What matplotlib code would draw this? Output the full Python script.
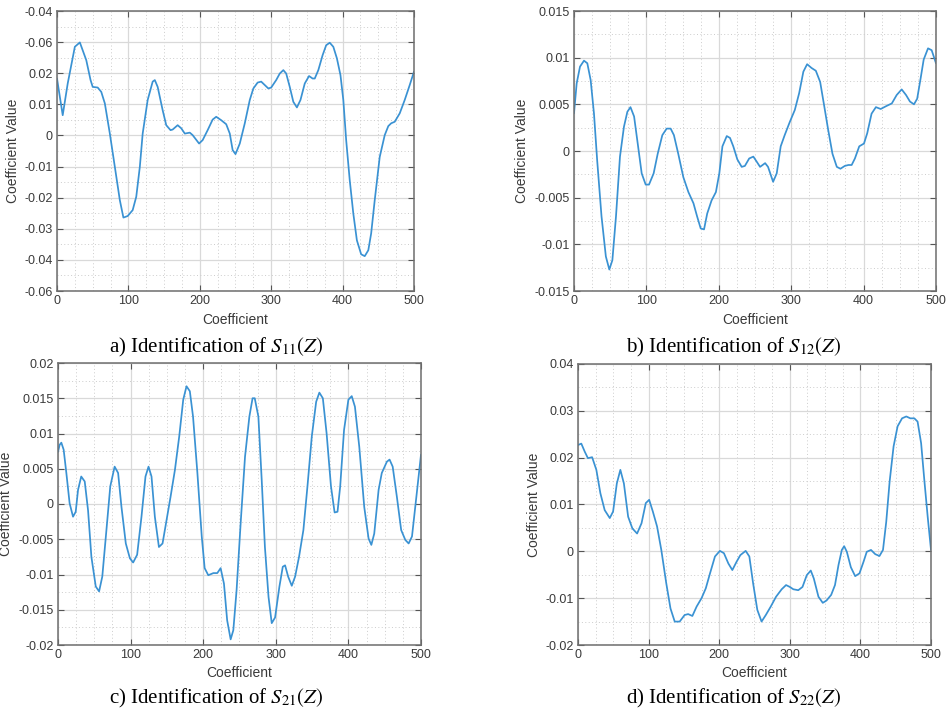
import matplotlib
matplotlib.use("Agg")
import matplotlib.pyplot as plt
from matplotlib.ticker import MultipleLocator, FixedLocator, FixedFormatter

plt.rcParams['font.family'] = ['Liberation Sans', 'DejaVu Sans']
plt.rcParams['mathtext.fontset'] = 'stix'

# ---------------- data ----------------
a_x = [0, 8, 15, 25, 32, 41, 47, 50, 57, 62, 67, 74, 81, 88, 93, 99, 106, 111, 116, 120, 127, 134, 137, 141,
       148, 153, 159, 162, 169, 174, 179, 186, 190, 199, 204, 211, 218, 223, 230, 237, 242, 246, 250, 256, 263,
       270, 275, 281, 286, 291, 296, 300, 307, 312, 317, 321, 326, 331, 336, 341, 347, 353, 358, 361, 366, 372,
       377, 382, 387, 392, 397, 401, 405, 410, 415, 420, 426, 431, 436, 440, 445, 452, 459, 464, 468, 473, 480,
       487, 494, 500]
a_y = [0.0183, 0.0065, 0.0167, 0.0285, 0.0299, 0.0242, 0.0178, 0.0156, 0.0154, 0.014, 0.0103, 0.0006, -0.0101,
       -0.0208, -0.0264, -0.0259, -0.024, -0.0197, -0.0101, 0.0006, 0.0114, 0.0173, 0.0178, 0.0156, 0.0081,
       0.0033, 0.0017, 0.0019, 0.0033, 0.0023, 0.0006, 0.0009, 0.0001, -0.0026, -0.0015, 0.0017, 0.0051, 0.006,
       0.0049, 0.0036, 0.0006, -0.0047, -0.006, -0.0026, 0.0039, 0.0114, 0.0151, 0.017, 0.0173, 0.0162, 0.0151,
       0.0154, 0.0178, 0.0199, 0.021, 0.0199, 0.0156, 0.0108, 0.009, 0.0114, 0.0167, 0.0191, 0.0183, 0.0183,
       0.021, 0.0258, 0.029, 0.0298, 0.0285, 0.0248, 0.0194, 0.0114, -0.0015, -0.0144, -0.0251, -0.0337, -0.0382,
       -0.0388, -0.0369, -0.0315, -0.0208, -0.0069, 0.0001, 0.003, 0.0039, 0.0044, 0.0071, 0.0114, 0.0162, 0.0205]

b_x = [0, 3.7, 8.3, 13.8, 18.4, 23, 27.6, 32, 38, 44, 48.8, 53, 58, 63.5, 69, 73.7, 78, 83, 88, 93.5, 99, 103.6,
       110, 115.6, 122, 128, 133.5, 138, 144, 151, 158, 165, 170, 175, 179.6, 184, 190, 196, 200.7, 205, 211,
       215.5, 220, 225.6, 231.6, 236, 242, 247.7, 252, 257, 264, 268, 275, 280, 285.5, 291, 298, 305, 311,
       316.8, 322, 328, 334, 340, 345, 351, 357, 363, 368, 374, 379, 383.5, 388, 394, 400.5, 405, 411, 417,
       423.6, 431, 439, 445.7, 452.6, 458.6, 464, 469.6, 474, 478.8, 483, 489, 494, 500]
b_y = [0.00404, 0.00725, 0.00904, 0.00968, 0.0094, 0.0076, 0.004, -0.001, -0.007, -0.0113, -0.0127, -0.0117,
       -0.007, -0.0006, 0.0026, 0.0042, 0.0047, 0.0037, 0.0008, -0.0024, -0.0036, -0.0036, -0.0024, -0.0003,
       0.0017, 0.0024, 0.0024, 0.0017, -0.0003, -0.0028, -0.0044, -0.0056, -0.007, -0.0083, -0.0084, -0.0067,
       -0.0053, -0.0044, -0.0024, 0.0005, 0.0016, 0.0014, 0.0005, -0.0009, -0.0017, -0.0016, -0.0008, -0.0006,
       -0.0011, -0.0017, -0.0013, -0.0017, -0.0033, -0.0024, 0.0005, 0.0017, 0.0031, 0.0044, 0.0062, 0.0085,
       0.0093, 0.0089, 0.0086, 0.0074, 0.0051, 0.0023, -0.0003, -0.0017, -0.0019, -0.0016, -0.0015, -0.0015,
       -0.0008, 0.0005, 0.0008, 0.0019, 0.004, 0.0047, 0.0045, 0.0048, 0.0051, 0.006, 0.0066, 0.006, 0.0053,
       0.005, 0.0056, 0.0078, 0.0098, 0.011, 0.0108, 0.0094]

c_x = [0, 2.3, 4.6, 7.8, 11.5, 16, 20.7, 24.4, 27.6, 32, 36.8, 41.4, 46, 52, 56.6, 61, 66.7, 72, 78, 82.8, 87.4,
       93.4, 99, 103.5, 109, 115, 120.5, 124.7, 128.8, 133.4, 139, 144, 149.5, 155, 161, 167, 172.5, 177, 181.6,
       186, 192, 198, 202, 207, 214, 219.4, 224, 228.6, 233, 237.8, 241.5, 246, 251.6, 257.6, 263.6, 268, 271,
       276, 280.6, 285, 290, 294.4, 299, 305, 309.6, 312.8, 317, 322, 326.6, 332, 338, 343.6, 349.6, 355.6, 360,
       364.8, 370, 376, 381, 385, 388.7, 394, 400, 404.6, 409, 415, 421.8, 427.8, 431.6, 435.6, 441.6, 446, 453,
       456.7, 461, 466.8, 472.7, 478.4, 483, 487.6, 493.6, 500]
c_y = [0.0074, 0.0084, 0.0087, 0.0077, 0.0044, 0.0001, -0.0018, -0.0011, 0.002, 0.0039, 0.0032, -0.0009,
       -0.0075, -0.0117, -0.0124, -0.0103, -0.0037, 0.0025, 0.0053, 0.0044, -0.0004, -0.0056, -0.0077, -0.0083,
       -0.0072, -0.0018, 0.0039, 0.0053, 0.0039, -0.0018, -0.0061, -0.0056, -0.0023, 0.001, 0.0048, 0.0096,
       0.0148, 0.0167, 0.016, 0.0124, 0.0044, -0.0046, -0.0091, -0.0101, -0.0098, -0.0098, -0.0091, -0.0113,
       -0.0165, -0.0192, -0.0179, -0.0122, -0.0027, 0.0067, 0.0124, 0.015, 0.015, 0.0124, 0.0034, -0.0061,
       -0.0132, -0.0169, -0.0161, -0.0117, -0.0089, -0.0087, -0.0103, -0.0116, -0.0103, -0.0075, -0.0037, 0.0025,
       0.0096, 0.0145, 0.0158, 0.015, 0.01, 0.0025, -0.0012, -0.0011, 0.0025, 0.0105, 0.0148, 0.0153, 0.0138,
       0.0081, -0.0004, -0.0049, -0.0058, -0.0042, 0.002, 0.0044, 0.006, 0.0063, 0.0053, 0.001, -0.0037, -0.0051,
       -0.0056, -0.0046, 0.001, 0.007]

d_x = [0, 4.7, 9.5, 14, 20, 26, 31.7, 37.8, 45, 49.7, 55, 60, 65, 71, 77, 83.7, 90, 96, 100.8, 106, 112, 118,
       125, 131, 137, 144, 151, 156, 162, 168, 175, 181, 187, 194, 201, 206.7, 213, 218.6, 224.7, 230, 237.5,
       242.7, 248, 254, 260, 266, 273, 280.5, 288.5, 294.7, 300, 305, 312, 318, 324, 329.7, 334, 340.6, 346.7,
       352, 358.6, 364, 369, 373.7, 377, 380.8, 386.5, 392.6, 398.7, 404.5, 409, 415, 421, 427, 432, 436.6,
       441.4, 447, 452.7, 459, 465, 470.7, 476.4, 481, 486, 490.5, 495.3, 500]
d_y = [0.0227, 0.023, 0.0213, 0.0199, 0.0201, 0.0174, 0.0124, 0.0088, 0.0071, 0.0085, 0.0145, 0.0174, 0.0145,
       0.0074, 0.0049, 0.0038, 0.006, 0.0103, 0.011, 0.0085, 0.0053, 0.0003, -0.0068, -0.0122, -0.015, -0.015,
       -0.0136, -0.0134, -0.0138, -0.0118, -0.01, -0.0079, -0.0047, -0.0011, 0.0001, -0.0004, -0.0026, -0.004,
       -0.0022, -0.0008, 0.0001, -0.0011, -0.0068, -0.0125, -0.015, -0.0136, -0.0118, -0.0097, -0.0081, -0.0072,
       -0.0076, -0.0081, -0.0083, -0.0076, -0.0051, -0.0041, -0.0058, -0.0097, -0.011, -0.0105, -0.0093, -0.0072,
       -0.0029, 0.0003, 0.0011, -0.0001, -0.0034, -0.0053, -0.0047, -0.0022, -0.0001, 0.0003, -0.0006, -0.001,
       0.0003, 0.0063, 0.0149, 0.0224, 0.0267, 0.0284, 0.0288, 0.0284, 0.0284, 0.0277, 0.0231, 0.0153, 0.0074,
       0.0003]

# y tick labels as printed in the figure (panel a has its own labels)
a_yticks = [0.04, 0.03, 0.02, 0.01, 0.0, -0.01, -0.02, -0.03, -0.04, -0.05]
a_yticklabels = ['-0.04', '-0.06', '0.02', '0.01', '0', '-0.01', '-0.02', '-0.03', '-0.04', '-0.06']
b_yticks = [-0.015, -0.01, -0.005, 0, 0.005, 0.01, 0.015]
b_yticklabels = ['-0.015', '-0.01', '-0.005', '0', '0.005', '0.01', '0.015']
c_yticks = [-0.02, -0.015, -0.01, -0.005, 0, 0.005, 0.01, 0.015, 0.02]
c_yticklabels = ['-0.02', '-0.015', '-0.01', '-0.005', '0', '0.005', '0.01', '0.015', '0.02']
d_yticks = [-0.02, -0.01, 0, 0.01, 0.02, 0.03, 0.04]
d_yticklabels = ['-0.02', '-0.01', '0', '0.01', '0.02', '0.03', '0.04']
x_ticks = [0, 100, 200, 300, 400, 500]

captions = [r'a) Identification of $S_{11}(Z)$', r'b) Identification of $S_{12}(Z)$',
            r'c) Identification of $S_{21}(Z)$', r'd) Identification of $S_{22}(Z)$']

# ---------------- figure ----------------
W, H = 953, 717
fig = plt.figure(figsize=(W / 100, H / 100), dpi=100)
LINE = '#3a92d3'
TXT = '#3a3a3a'


def px_axes(l, t, r, b):
    return fig.add_axes([l / W, 1 - b / H, (r - l) / W, (b - t) / H])


def style(ax, x, y, ylim, yticks, ylabels, yminor, ylab_x, xlab_y):
    ax.plot(x, y, color=LINE, lw=1.25, solid_joinstyle='round', solid_capstyle='round')
    ax.set_xlim(0, 500)
    ax.set_ylim(*ylim)
    ax.set_xticks(x_ticks)
    ax.set_xticklabels([str(t) for t in x_ticks])
    ax.yaxis.set_major_locator(FixedLocator(yticks))
    ax.yaxis.set_major_formatter(FixedFormatter(ylabels))
    ax.xaxis.set_minor_locator(MultipleLocator(25))
    ax.yaxis.set_minor_locator(MultipleLocator(yminor))
    ax.grid(True, which='major', color='#d9d9d9', lw=0.9, ls='-')
    ax.grid(True, which='minor', color='#cccccc', lw=0.7, ls=(0, (1, 2.5)))
    ax.set_axisbelow(True)
    ax.tick_params(which='both', direction='in', top=True, right=True, colors='#555555',
                   labelcolor=TXT, labelsize=9)
    ax.tick_params(which='major', length=4, width=0.8, pad=3)
    ax.tick_params(which='minor', length=0)
    for s in ax.spines.values():
        s.set_color('#6e6e6e')
        s.set_linewidth(1.1)
    ax.set_xlabel('Coefficient', fontsize=10, color=TXT)
    ax.set_ylabel('Coefficient Value', fontsize=10, color=TXT)
    ax.yaxis.set_label_coords(ylab_x, 0.5)
    ax.xaxis.set_label_coords(0.5, xlab_y)


ax_a = px_axes(57, 11, 414, 291)
style(ax_a, a_x, a_y, (-0.05, 0.04), a_yticks, a_yticklabels, 0.005, -0.105, -0.08)
ax_b = px_axes(574, 11, 936, 291)
style(ax_b, b_x, b_y, (-0.015, 0.015), b_yticks, b_yticklabels, 0.0025, -0.125, -0.08)
ax_c = px_axes(58, 363, 421, 645)
style(ax_c, c_x, c_y, (-0.02, 0.02), c_yticks, c_yticklabels, 0.0025, -0.125, -0.075)
ax_d = px_axes(578, 364, 931, 645)
style(ax_d, d_x, d_y, (-0.02, 0.04), d_yticks, d_yticklabels, 0.005, -0.105, -0.075)

cap_pos = [(216, 347), (734, 347), (216, 698), (734, 698)]
for (cx, cy), txt in zip(cap_pos, captions):
    fig.text(cx / W, 1 - cy / H, txt, ha='center', va='center', fontsize=15,
             family=['Liberation Serif', 'DejaVu Serif'], color='black')

fig.savefig('out.png', dpi=100, facecolor='white')
